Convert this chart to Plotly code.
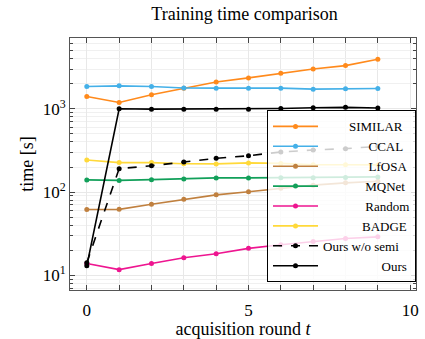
import plotly.graph_objects as go

rounds = list(range(10))
similar = [1404, 1190, 1472, 1770, 2100, 2350, 2680, 3010, 3300, 3940]
ccal = [1850, 1885, 1850, 1780, 1770, 1770, 1770, 1720, 1735, 1750]
lfosa = [61.7, 62, 71.4, 82, 92.6, 101, 111, 121, 129, 135]
mqnet = [140, 138, 141, 144, 148, 148, 149, 149, 150, 152]
random_ = [13.9, 11.7, 13.9, 16.3, 18.2, 21.1, 23.3, 25.5, 27.7, 29.0]
badge = [243, 226, 226, 219, 218, 224, 221, 213, 213, 212]
ours_wo = [14.2, 191, 207, 230, 254, 273, 303, 320, 332, 354]
ours = [13.0, 1000, 990, 990, 990, 990, 1010, 1030, 1040, 1020]

series = [
    ("SIMILAR", similar, "#ff8a1c", "solid"),
    ("CCAL", ccal, "#44b0e8", "solid"),
    ("LfOSA", lfosa, "#c0803f", "solid"),
    ("MQNet", mqnet, "#12a05a", "solid"),
    ("Random", random_, "#ee1590", "solid"),
    ("BADGE", badge, "#ffd93a", "solid"),
    ("Ours w/o semi", ours_wo, "#000000", "dash"),
    ("Ours", ours, "#000000", "solid"),
]

pad = {"SIMILAR": 8, "CCAL": 14, "LfOSA": 14, "MQNet": 13, "Random": 13,
       "BADGE": 12, "Ours w/o semi": 0, "Ours": 18}

FONT = "Liberation Serif, Times New Roman, DejaVu Serif, serif"
fig = go.Figure()
for name, vals, color, dash in series:
    fig.add_trace(go.Scatter(
        x=rounds, y=vals, mode="lines+markers",
        name="\u00a0" * pad[name] + name,
        line=dict(color=color, width=1.6, dash=dash),
        marker=dict(color=color, size=5),
    ))

minor_y = [m * 10 ** k for k in range(0, 4) for m in range(2, 10)]

fig.update_layout(
    width=425, height=339,
    margin=dict(l=70, r=6, t=38, b=48),
    paper_bgcolor="white", plot_bgcolor="white",
    font=dict(family=FONT, color="black", size=13),
    title=dict(text="Training time comparison", x=(70 + 419) / 2 / 425, xanchor="center",
               y=1 - 14 / 339, yanchor="middle", font=dict(size=18, family=FONT)),
    showlegend=True,
    legend=dict(x=1, xanchor="right", y=0.03, yanchor="bottom",
                bgcolor="rgba(255,255,255,0.8)", bordercolor="black", borderwidth=1,
                font=dict(size=13, family=FONT), itemwidth=45, tracegroupgap=0),
)
fig.update_xaxes(
    range=[-0.52, 10.18], tickvals=[0, 5, 10], ticks="inside", ticklen=5,
    showline=True, linecolor="#555", linewidth=1, mirror="allticks",
    showgrid=True, gridcolor="#e8e8e8", zeroline=False,
    tickfont=dict(size=17, family=FONT), ticklabelstandoff=5,
    minor=dict(dtick=1, tick0=0, ticks="inside", ticklen=5, showgrid=True, gridcolor="#e8e8e8"),
    title=dict(text="acquisition round <i>t</i>", font=dict(size=18, family=FONT), standoff=0),
)
fig.update_yaxes(
    type="log", range=[0.824, 3.85], tickvals=[10, 100, 1000],
    ticktext=["10<sup>1</sup>", "10<sup>2</sup>", "10<sup>3</sup>"],
    ticks="inside", ticklen=5, showline=True, linecolor="#555", linewidth=1, mirror="allticks",
    showgrid=True, gridcolor="#e8e8e8", zeroline=False,
    tickfont=dict(size=17, family=FONT),
    minor=dict(tickvals=minor_y, ticks="inside", ticklen=3, showgrid=True, gridcolor="#f0f0f0"),
    title=dict(text="time [s]", font=dict(size=18, family=FONT), standoff=4),
)
fig.write_html("out.html")
